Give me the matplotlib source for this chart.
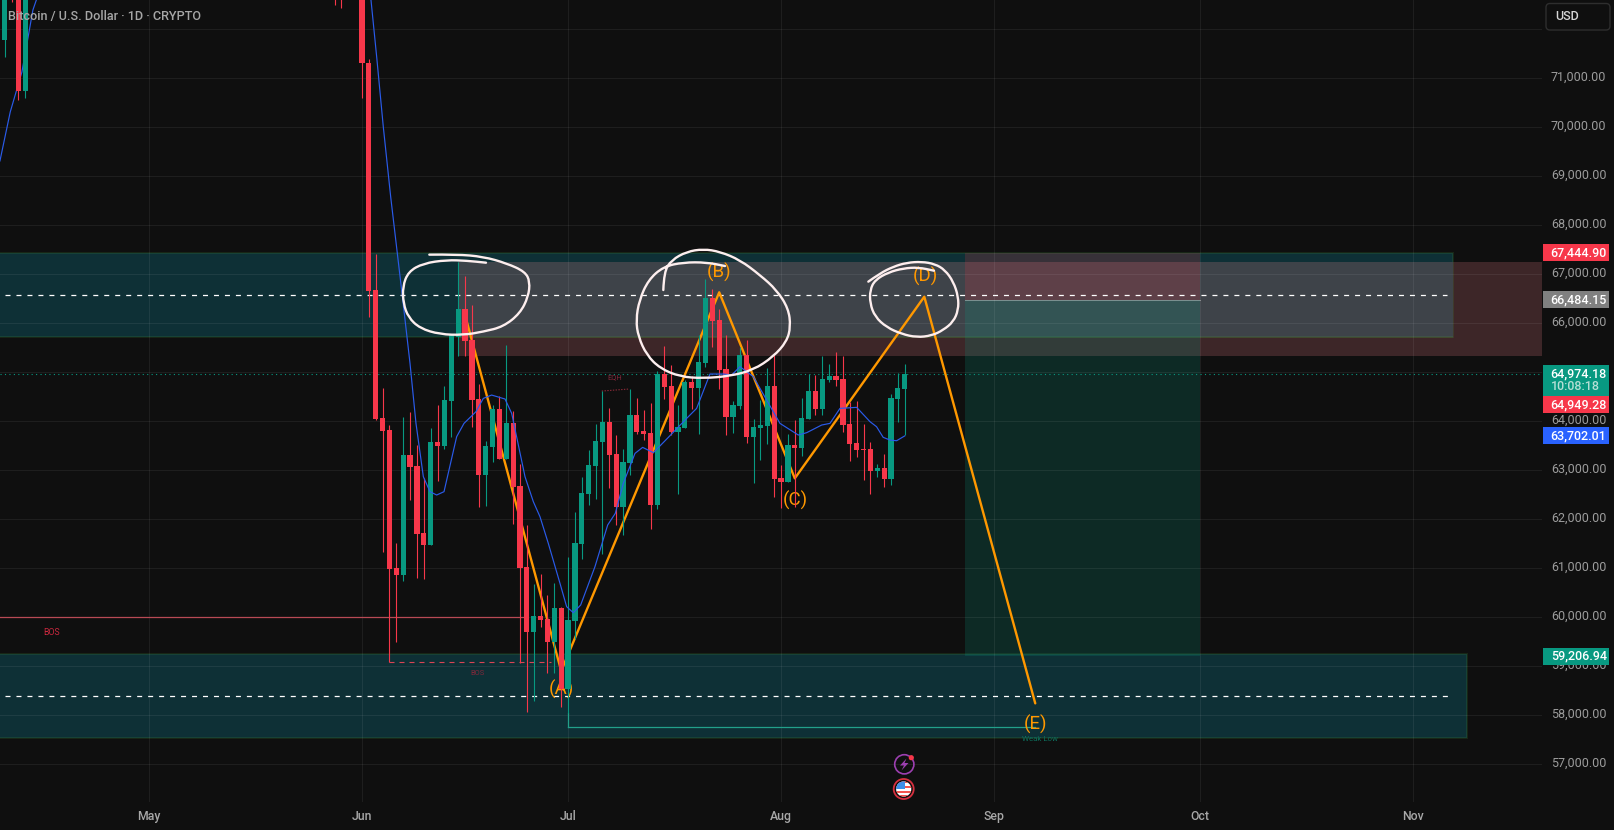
import matplotlib
matplotlib.use("Agg")
import matplotlib.pyplot as plt
from matplotlib.patches import Rectangle, PathPatch, Circle, Polygon, FancyBboxPatch
from matplotlib.path import Path
from matplotlib.transforms import ScaledTranslation

plt.rcParams['font.family'] = ['Roboto', 'DejaVu Sans']
plt.rcParams['lines.scale_dashes'] = False

# ---- data: day number counted from 1 June ----
month_days = [-31, 0, 30, 61, 92, 122, 153]
month_names = ['May', 'Jun', 'Jul', 'Aug', 'Sep', 'Oct', 'Nov']
price_ticks = list(range(57000, 73000, 1000))

early_days = [-52, -51, -50, -49, -4, -3]
early_open = [71782, 73200, 73000, 70741, 73500, 73500]
early_high = [73100, 73300, 73100, 73100, 73600, 73600]
early_low = [71435, 72558, 70557, 70598, 72496, 72435]
early_close = [73000, 73000, 70741, 73000, 73000, 73000]

opens = [73500, 71313, 66679, 64060, 63822, 61006, 60863, 63312, 63087, 61720,
         61475, 63577, 63496, 64414, 65727, 66292, 65659, 64455, 62904, 63475,
         64251, 63230, 63965, 62679, 61026, 59700, 60026, 59965, 59495, 60189,
         58536, 59924, 61495, 62516, 63087, 63577, 63985, 63332, 62251, 63149,
         64128, 63802, 63761, 62292, 64965, 64720, 63781, 63863, 64802, 64679,
         65190, 66516, 66067, 65067, 64088, 64312, 65353, 63679, 63863, 63904,
         64720, 62843, 62761, 63516, 63455, 64047, 64618, 64251, 64843, 64924,
         64863, 63945, 63557, 63434, 63434, 62985, 63047, 62822, 64455, 64659]
highs = [73900, 71400, 67414, 64673, 63924, 61509, 64094, 64196, 63516, 62836,
         63856, 64332, 64720, 65761, 67258, 66965, 66373, 64761, 63598, 64332,
         64516, 65557, 64210, 63128, 61883, 60679, 60883, 60455, 60693, 60217,
         61237, 62149, 62863, 63414, 63945, 64618, 64271, 63720, 63434, 64659,
         64475, 64230, 64366, 65026, 65537, 65149, 64332, 64843, 64924, 65761,
         66904, 66700, 66292, 65761, 64414, 65523, 65659, 64047, 64434, 65088,
         65353, 63108, 63741, 64026, 64475, 64965, 64945, 65332, 65169, 65414,
         65332, 64400, 64414, 63945, 63577, 63128, 63332, 64557, 64986, 65169]
lows = [70598, 66135, 64026, 61339, 59094, 59502, 60747, 62394, 60808, 60788,
        61475, 62781, 63434, 63686, 65332, 65332, 63890, 62257, 62271, 63169,
        63230, 63230, 61904, 59074, 58074, 58291, 59802, 58863, 58863, 58162,
        58040, 59557, 61189, 62292, 62414, 61292, 62638, 61883, 61679, 62904,
        63741, 63618, 61802, 62210, 64455, 63720, 62516, 63863, 64251, 63741,
        65108, 65516, 64659, 63720, 63761, 64251, 63557, 62740, 63210, 63536,
        62455, 62230, 62761, 62257, 63292, 64047, 64128, 64128, 64802, 64720,
        63781, 63190, 63271, 62802, 62516, 62863, 62659, 62700, 63990, 63720]
closes = [71313, 66666, 64040, 63802, 60985, 60863, 63312, 63067, 61700, 61475,
          63577, 63496, 64434, 65761, 66292, 65639, 64434, 62904, 63496, 64251,
          63230, 63965, 62659, 61006, 59700, 60026, 59944, 59495, 60189, 58536,
          59944, 61516, 62536, 63108, 63598, 63985, 63312, 62251, 63169, 64128,
          63781, 63741, 62292, 64965, 64700, 63781, 63883, 64802, 64679, 65210,
          66516, 66047, 65047, 64088, 64332, 65353, 63679, 63883, 63924, 64720,
          62822, 62761, 63516, 63455, 64067, 64618, 64251, 64863, 64924, 64843,
          63924, 63536, 63414, 63414, 62985, 63047, 62822, 64475, 64680, 64974.18]
candle_days = list(range(len(opens)))

ema_left_days = [-52.7, -51.2, -49.5, -47.9, -47.4, -46.6]
ema_left_vals = [69313, 70313, 71130, 72394, 72598, 73200]
ema_days = [1.31, 2.14, 3.1, 4.18, 5.77, 6.99, 7.86, 8.93, 9.90, 10.87, 11.94, 13.78,
            14.85, 16.59, 17.66, 18.87, 20.82, 21.79, 23.73, 24.94, 25.91, 27.12,
            28.82, 29.79, 30.76, 31.83, 33.91, 35.76, 36.87, 38.04, 39.74, 40.85,
            42.41, 44.59, 47.26, 48.71, 50.65, 52.6, 53.81, 55.02, 56.96, 60.84,
            63.51, 64.73, 66.91, 68.12, 69.58, 72.0, 73.95, 74.9, 75.86, 76.85,
            77.82, 79]
ema_vals = [72598, 71435, 70013, 68578, 66679, 65183, 63958, 62870, 62564, 62496, 62564,
            63686, 63958, 64196, 64468, 64536, 64455, 64162, 62870, 62360, 62053, 61509,
            60693, 60217, 60094, 60251, 61033, 61883, 62121, 62734, 63346, 63468,
            63360, 63672, 64060, 64264, 64965, 64965, 64945, 65115, 64911, 63958,
            63720, 63768, 63924, 63958, 64264, 64285, 63992, 63890, 63673, 63618,
            63604, 63702]

wave_days = [15, 29, 52, 63, 81.85, 98]
wave_vals = [66169, 58904, 66633, 62836, 66543, 58244]
wave_text = ['(A)', '(B)', '(C)', '(D)', '(E)']
wave_text_days = [29, 52, 63.1, 82, 98]
wave_text_vals = [58536, 67033, 62394, 66951, 57822]

zone_upper = (-60, 158.8, 65730, 67440)
zone_lower = (-60, 160.9, 57536, 59244)
zone_red = (14, 180, 65339, 67251)
box_days = (87.8, 122)
box_top, box_entry, box_bottom = 67444.90, 66484.15, 59206.94
dash_upper, dash_lower = 66571, 58387
dash_upper_days = (-52, 158)
dash_lower_days = (-52, 158.2)
last_price = 64974.18

bos_level, bos_days = 60000, (-60, 23.5)
bos2_level, bos2_days = 59094, (4, 27.5)
weak_level, weak_days = 57755, (30, 98)
weak_stem_top = 58040
eqh_days, eqh_vals = [34.9, 38.9], [64618, 64659]

circle1_d = [9.80, 13.78, 17.66, 21.06, 23.73, 24.45, 24.21, 23.0, 20.57, 17.66, 14.75, 11.35,
             8.44, 6.74, 6.02, 5.92, 6.74, 8.93, 12.32, 15.23, 18.05]
circle1_p = [67401, 67407, 67360, 67224, 67054, 66850, 66543, 66203, 65931, 65829, 65761, 65775,
             65897, 66122, 66407, 66747, 67054, 67224, 67292, 67278, 67237]
circle2_d = [43.86, 43.96, 45.07, 47.26, 49.68, 52.11, 55.02, 57.93, 60.36, 62.06, 62.40, 61.81,
             59.87, 56.96, 53.57, 49.68, 46.29, 43.38, 41.44, 40.22, 39.88, 40.37, 41.68, 43.86,
             46.77, 50.17, 52.84]
circle2_p = [66679, 67054, 67292, 67462, 67516, 67462, 67292, 66986, 66679, 66305, 65931, 65625,
             65319, 65047, 64924, 64877, 64911, 65081, 65353, 65727, 66067, 66475, 66884, 67156,
             67244, 67244, 67169]
circle3_d = [73.70, 75.40, 77.34, 79.28, 81.47, 83.41, 84.86, 86.08, 86.80, 86.80, 86.08, 84.62,
             82.92, 80.74, 78.56, 76.37, 74.67, 73.95, 73.95, 74.67, 76.61, 78.80, 80.98, 83.26]
circle3_p = [66850, 67020, 67156, 67237, 67258, 67210, 67088, 66850, 66543, 66271, 66033, 65863,
             65748, 65714, 65782, 65918, 66135, 66407, 66680, 66884, 67040, 67122, 67142, 67074]

# ---- figure ----
BG = '#0f0f0f'
UP, DOWN = '#089981', '#f7374a'
W, H = 1614, 830
fig = plt.figure(figsize=(W / 100, H / 100), dpi=100, facecolor=BG)
ax = fig.add_axes([0, 1 - 802 / H, 1542 / W, 802 / H], facecolor=BG)
ax.set_xlim(-52.69, 171.76)
ax.set_ylim(56231, 72598)
for s in ax.spines.values():
    s.set_visible(False)

ax.set_axisbelow('line')
ax.set_xticks(month_days)
ax.set_xticklabels(month_names, fontsize=8.8, color='#a8a8a8', fontweight='medium')
ax.set_yticks(price_ticks)
ax.set_yticklabels([f'{p:,.2f}' if p < 72000 else '' for p in price_ticks],
                   fontsize=9.0, color='#9c9c9c')
ax.yaxis.tick_right()
ax.tick_params(axis='both', length=0)
ax.tick_params(axis='y', pad=6.4)
ax.tick_params(axis='x', pad=5.6)
ax.grid(True, color='#ffffff', alpha=0.065, lw=0.75)
# price labels sit a little above their grid lines
up2 = ScaledTranslation(0, 2.4 / 72, fig.dpi_scale_trans) if False else ScaledTranslation(0, 2.4 / 100, fig.dpi_scale_trans)
for t in ax.get_yticklabels():
    t.set_transform(t.get_transform() + up2)


def zone(b, color, z=1, edge=None):
    ax.add_patch(Rectangle((b[0], b[2]), b[1] - b[0], b[3] - b[2], facecolor=color,
                           edgecolor=edge or 'none', lw=1.4 if edge else 0, zorder=z))


EDGE = (0.30, 0.65, 0.25, 0.16)
zone(zone_red, '#3d2628', 0.9)
zone(zone_upper, '#0e3036', 1, EDGE)
zone(zone_lower, '#0e3036', 1, EDGE)
overlap = (max(zone_red[0], zone_upper[0]), min(zone_red[1], zone_upper[1]),
           max(zone_red[2], zone_upper[2]), min(zone_red[3], zone_upper[3]))
zone(overlap, '#3e4349', 1.05)
ax.add_patch(Rectangle((overlap[0], zone_upper[2]), overlap[1] - overlap[0], 0, fill=False,
                       edgecolor=EDGE, lw=1.4, zorder=1.06))

# long position box
ax.add_patch(Rectangle((box_days[0], box_entry), box_days[1] - box_days[0], box_top - box_entry,
                       facecolor='#f23645', alpha=0.18, lw=0, zorder=1.2))
ax.add_patch(Rectangle((box_days[0], box_bottom), box_days[1] - box_days[0], box_entry - box_bottom,
                       facecolor='#089981', alpha=0.2, lw=0, zorder=1.2))
ax.plot(box_days, [box_entry, box_entry], color='#ffffff', alpha=0.35, lw=0.75, zorder=1.3)

# level lines
dash = (0, (3.6, 4.3))
ax.plot(dash_upper_days, [dash_upper] * 2, color='white', lw=0.9, ls=dash, zorder=2.5)
ax.plot(dash_lower_days, [dash_lower] * 2, color='white', lw=0.9, ls=dash, zorder=2.5)
ax.axhline(last_price, color=UP, lw=0.8, ls=(0, (0.8, 2.4)), zorder=2.4)
ax.plot(bos_days, [bos_level] * 2, color='#b84a55', lw=0.9, zorder=2.3)
ax.plot(bos2_days, [bos2_level] * 2, color='#d94454', lw=0.8, ls=(0, (3.6, 3.6)), zorder=2.3)
ax.plot(weak_days, [weak_level] * 2, color='#22a08a', lw=0.9, zorder=2.3)
ax.plot([weak_days[0]] * 2, [weak_level, weak_stem_top], color='#22a08a', lw=0.9, zorder=2.3)
ax.plot(eqh_days, eqh_vals, color='#8a2a38', lw=0.8, ls=(0, (1, 1)), zorder=2.3)
ax.text(-45.2, 59693, 'BOS', color='#c9283e', fontsize=6.3, ha='center', va='center', zorder=3)
ax.text(16.84, 58863, 'BOS', color='#80283a', fontsize=5.4, ha='center', va='center', zorder=3)
ax.text(36.8, 64890, 'EQH', color='#80283a', fontsize=5.4, ha='center', va='center', zorder=3)
ax.text(98.7, 57509, 'Weak Low', color='#0c6e5c', fontsize=5.7, ha='center', va='center', zorder=3)

# zigzag
ax.plot(wave_days, wave_vals, color='#ff9800', lw=1.7, zorder=3, solid_capstyle='round')
for d, p, t in zip(wave_text_days, wave_text_vals, wave_text):
    ax.text(d, p, t, color='#ff9800', fontsize=13.5, ha='center', va='center', zorder=3)

# EMA
ax.plot(ema_left_days, ema_left_vals, color='#2a5bea', lw=0.85, zorder=4)
ax.plot(ema_days, ema_vals, color='#2a5bea', lw=0.85, zorder=7)

# candles
all_days = early_days + candle_days
all_o = early_open + opens
all_h = early_high + highs
all_l = early_low + lows
all_c = early_close + closes
for d, o, h, l, c in zip(all_days, all_o, all_h, all_l, all_c):
    col = UP if c >= o else DOWN
    ax.plot([d, d], [l, h], color=col, lw=0.8, zorder=5, solid_capstyle='butt')
    ax.bar(d, max(abs(c - o), 30), bottom=min(o, c), width=0.76, color=col, lw=0, zorder=5.1)


# freehand circles
def freehand(xs, ys):
    verts = [(xs[0], ys[0])]
    codes = [Path.MOVETO]
    for i in range(1, len(xs) - 1):
        verts += [(xs[i], ys[i]), ((xs[i] + xs[i + 1]) / 2, (ys[i] + ys[i + 1]) / 2)]
        codes += [Path.CURVE3, Path.CURVE3]
    verts.append((xs[-1], ys[-1]))
    codes.append(Path.LINETO)
    ax.add_patch(PathPatch(Path(verts, codes), fill=False, edgecolor='#fdeeee', lw=1.7,
                           capstyle='round', joinstyle='round', zorder=8))


freehand(circle1_d, circle1_p)
freehand(circle2_d, circle2_p)
freehand(circle3_d, circle3_p)

# price badges
tr = ax.get_yaxis_transform()
PX = 20.41  # price per pixel
L = 1543 / 1542
BW = 65.7 / 1542
TX = 1550.7 / 1542


def badge(center, height_px, color):
    h = height_px * PX
    ax.add_patch(Rectangle((L, center - h / 2), BW, h, transform=tr, facecolor=color, lw=0,
                           clip_on=False, zorder=10))


def label(price, text, color='white'):
    ax.text(TX, price, text, transform=tr, color=color, fontsize=9.0, fontweight='medium',
            ha='left', va='center', clip_on=False, zorder=11)


badge(box_top, 17, '#f7374a')
label(box_top, f'{box_top:,.2f}')
badge(box_entry, 17, '#808080')
label(box_entry, f'{box_entry:,.2f}')
badge(64837, 30.7, UP)
label(64974.18, f'{64974.18:,.2f}')
label(64706, '10:08:18', '#b5dfd5')
badge(64343, 17, '#f7374a')
label(64343, f'{64949.28:,.2f}')
badge(63702.01, 17, '#2962ff')
label(63702.01, f'{63702.01:,.2f}')
badge(box_bottom, 17, UP)
label(box_bottom, f'{box_bottom:,.2f}')

# overlay in figure pixels for interface furniture
ui = fig.add_axes([0, 0, 1, 1], facecolor='none')
ui.set_xlim(0, W)
ui.set_ylim(H, 0)
ui.axis('off')
ui.text(8, 16.7, 'Bitcoin / U.S. Dollar · 1D · CRYPTO', color='#a6a6a6', fontsize=9.1,
        fontweight='medium', ha='left', va='center')
ui.add_patch(FancyBboxPatch((1548, 5.5), 60, 22.5, boxstyle='round,pad=2,rounding_size=4',
                            facecolor=BG, edgecolor='#2e2e2e', lw=1))
ui.text(1555, 17, 'USD', color='#d6d6d6', fontsize=9.0, fontweight='medium', ha='left', va='center')

# event icons
ui.add_patch(Circle((904.3, 764.3), 9.6, fill=False, edgecolor='#9c3fb0', lw=1.2))
ui.add_patch(Polygon([(906.5, 758.5), (900, 765.5), (904, 765.5), (901.5, 770.5), (908.5, 763),
                      (904.5, 763)], closed=True, facecolor='#9c3fb0', lw=0))
ui.add_patch(Circle((911.3, 757.7), 2.6, facecolor='#f7374a', lw=0))
ring = Circle((903.7, 789), 10, fill=False, edgecolor='#d6303f', lw=1.3)
ui.add_patch(ring)
disc = Circle((903.7, 789), 7.6, facecolor='white', lw=0)
ui.add_patch(disc)
for yy, cc, hh in [(781, '#f4564f', 2.4), (786, '#f4564f', 2.2), (790.6, '#f4564f', 2.2),
                   (795.2, '#f4564f', 2.4)]:
    r = Rectangle((895, yy), 18, hh, facecolor=cc, lw=0)
    ui.add_patch(r)
    r.set_clip_path(disc)
r = Rectangle((895, 781), 9.5, 8, facecolor='#3d8fe8', lw=0)
ui.add_patch(r)
r.set_clip_path(disc)

fig.savefig('out.png', dpi=100, facecolor=BG)
